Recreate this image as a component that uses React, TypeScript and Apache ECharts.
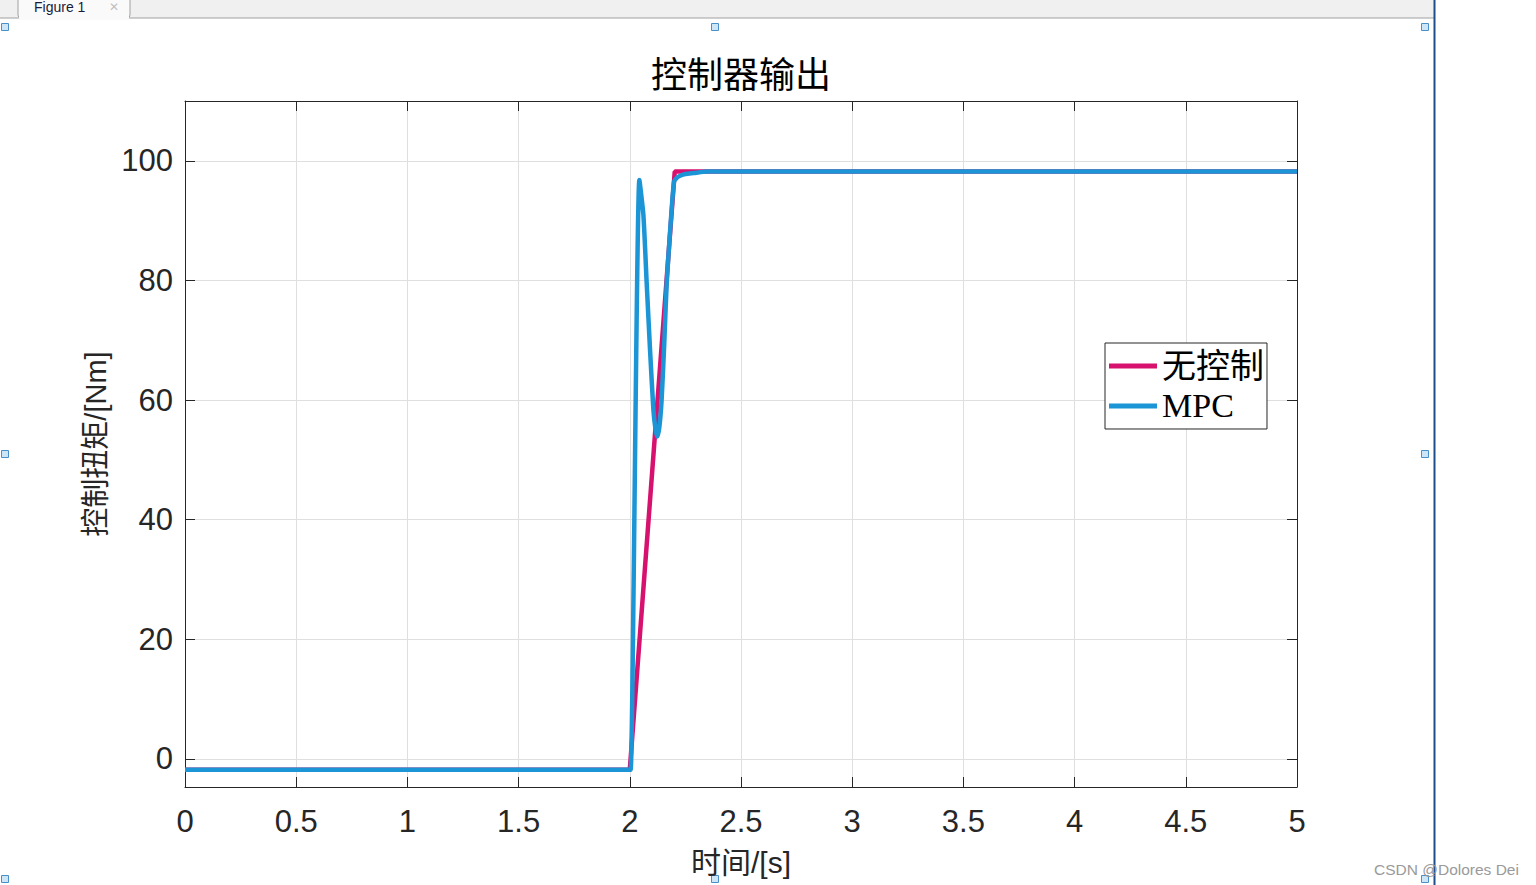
import React, { useEffect, useRef } from "react";
import * as echarts from "echarts";

const titleText = "控制器输出";
const xName = "时间/[s]";
const yName = "控制扭矩/[Nm]";
const seriesNames = ["无控制", "MPC"];
const yTicks = [0, 20, 40, 60, 80, 100];

const redT = [0, 2.0, 2.202, 5];
const redV = [-1.8, -1.8, 98.2, 98.2];

const blueT = [0, 2.0, 2.004, 2.043, 2.061, 2.076, 2.091, 2.106, 2.116, 2.124, 2.133, 2.143, 2.155, 2.166, 2.178, 2.188, 2.199, 2.212, 2.226, 2.25, 2.286, 2.35, 5];
const blueV = [-1.8, -1.8, -1.8, 96.8, 91.0, 79.5, 68.4, 58.4, 55.0, 53.9, 55.5, 60.0, 69.5, 79.6, 86.5, 91.8, 96.5, 97.2, 97.5, 97.8, 97.95, 98.2, 98.2];

const RED = "#D6126E";
const BLUE = "#1B95D5";
const AX = "#262626";

export default function App() {
  const ref = useRef<HTMLDivElement>(null);
  useEffect(() => {
    document.body.style.margin = "0";
    const chart = echarts.init(ref.current!, null, { renderer: "svg" });
    const tickStyle = { show: true, inside: true, length: 10, lineStyle: { color: AX, width: 1 } };
    const handles = [
      [5, 27], [715, 27], [1425, 27], [5, 454], [1425, 454], [715, 879], [5, 879], [1425, 879],
    ];
    chart.setOption({
      animation: false,
      backgroundColor: "#ffffff",
      title: {
        text: titleText,
        left: 736,
        textAlign: "center",
        top: 49,
        textStyle: { fontSize: 36, fontWeight: "normal", color: "#000", fontFamily: "Noto Sans CJK SC" },
      },
      grid: { left: 185, top: 101, width: 1112, height: 686 },
      legend: {
        orient: "vertical",
        left: 1105,
        top: 343,
        backgroundColor: "#fff",
        borderColor: AX,
        borderWidth: 1,
        padding: [6, 3, 6, 4],
        itemGap: 6,
        itemWidth: 48,
        itemHeight: 5,
        icon: "rect",
        textStyle: { fontSize: 34, color: "#000", fontFamily: "Liberation Serif, Noto Sans CJK SC", padding: [2, 0, 0, 0] },
        data: seriesNames,
      },
      xAxis: [
        {
          type: "value",
          min: 0,
          max: 5,
          interval: 0.5,
          position: "bottom",
          name: xName,
          nameLocation: "middle",
          nameGap: 60,
          nameTextStyle: { fontSize: 30, color: AX, fontFamily: "Liberation Sans, Noto Sans CJK SC" },
          axisLine: { show: true, onZero: false, lineStyle: { color: AX, width: 1 } },
          axisTick: tickStyle,
          axisLabel: { fontSize: 31, color: AX, margin: 19, fontFamily: "Liberation Sans, Arial" },
          splitLine: { show: true, lineStyle: { color: "#dfdfdf", width: 1 } },
        },
        {
          type: "value",
          min: 0,
          max: 5,
          interval: 0.5,
          position: "top",
          axisLine: { show: true, onZero: false, lineStyle: { color: AX, width: 1 } },
          axisTick: tickStyle,
          axisLabel: { show: false },
          splitLine: { show: false },
        },
      ],
      yAxis: [
        {
          type: "value",
          min: -4.7,
          max: 110,
          position: "left",
          name: yName,
          nameLocation: "middle",
          nameGap: 74,
          nameTextStyle: { fontSize: 29, color: AX, fontFamily: "Liberation Sans, Noto Sans CJK SC" },
          axisLine: { show: true, onZero: false, lineStyle: { color: AX, width: 1 } },
          axisTick: { ...tickStyle, customValues: yTicks },
          axisLabel: { fontSize: 31, color: AX, margin: 12, fontFamily: "Liberation Sans, Arial", customValues: yTicks },
          splitLine: { show: true, lineStyle: { color: "#dfdfdf", width: 1 } },
        },
        {
          type: "value",
          min: -4.7,
          max: 110,
          position: "right",
          axisLine: { show: true, onZero: false, lineStyle: { color: AX, width: 1 } },
          axisTick: { ...tickStyle, customValues: yTicks },
          axisLabel: { show: false, customValues: yTicks },
          splitLine: { show: false },
        },
      ],
      series: [
        {
          name: seriesNames[0],
          type: "line",
          showSymbol: false,
          symbol: "none",
          color: RED,
          lineStyle: { color: RED, width: 4.5 },
          data: redT.map((t, i) => [t, redV[i]]),
        },
        {
          name: seriesNames[1],
          type: "line",
          showSymbol: false,
          symbol: "none",
          smooth: 0.2,
          color: BLUE,
          lineStyle: { color: BLUE, width: 4.5 },
          data: blueT.map((t, i) => [t, blueV[i]]),
        },
      ],
      graphic: [
        { type: "rect", shape: { x: 0, y: 0, width: 1434, height: 18 }, style: { fill: "#f0f0f0" }, silent: true },
        { type: "line", shape: { x1: 0, y1: 18, x2: 1434, y2: 18 }, style: { stroke: "#a0a0a0", lineWidth: 1 } },
        { type: "rect", shape: { x: 18, y: -4, width: 112, height: 22, r: 3 }, style: { fill: "#fafafa", stroke: "#a0a0a0", lineWidth: 1 } },
        { type: "rect", shape: { x: 19, y: 17, width: 110, height: 3 }, style: { fill: "#fafafa" } },
        { type: "text", x: 34, y: 0, style: { text: "Figure 1", fontSize: 14, fill: "#1a1a3a", fontFamily: "Liberation Sans" } },
        { type: "text", x: 109, y: 1, style: { text: "✕", fontSize: 12, fill: "#c0c0c0", fontFamily: "DejaVu Sans" } },
        { type: "line", shape: { x1: 1434.5, y1: 0, x2: 1434.5, y2: 885 }, style: { stroke: "#1f4e8c", lineWidth: 2 } },
        ...handles.map(([cx, cy]) => ({
          type: "rect",
          shape: { x: cx - 3.5, y: cy - 3.5, width: 7, height: 7 },
          style: { fill: "#cde6f7", stroke: "#4a90c8", lineWidth: 1 },
        })),
        { type: "text", x: 1374, y: 861, style: { text: "CSDN @Dolores Dei", fontSize: 15.5, fill: "#9a9a9a", fontFamily: "Liberation Sans" } },
      ],
    });
    return () => chart.dispose();
  }, []);
  return <div ref={ref} style={{ width: 1536, height: 885 }} />;
}
